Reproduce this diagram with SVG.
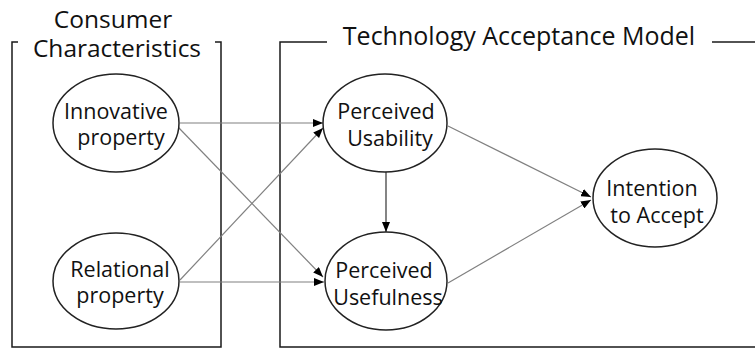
<svg xmlns="http://www.w3.org/2000/svg" width="755" height="350" viewBox="0 0 755 350">
  <defs>
    <marker id="arrow" viewBox="0 0 10 8" refX="10" refY="4" markerWidth="10" markerHeight="8" markerUnits="userSpaceOnUse" orient="auto">
      <path d="M0,0 L10,4 L0,8 Z" fill="#000"/>
    </marker>
    <style>
      .frame { fill: none; stroke: #1a1a1a; stroke-width: 1.5; }
      .title { font-family: "Open Sans", "Noto Sans", sans-serif; font-size: 24.5px; fill: #111; text-anchor: middle; }
      .title.wide { font-size: 25px; }
      .node ellipse { fill: #fff; stroke: #222; stroke-width: 1.5; }
      .node text { font-family: "Open Sans", "Noto Sans", sans-serif; font-size: 21.5px; fill: #111; text-anchor: middle; }
      .edge { stroke: #808080; stroke-width: 1.2; fill: none; marker-end: url(#arrow); }
      .edge.dark { stroke: #333; }
    </style>
  </defs>
  <rect width="755" height="350" fill="#fff"/>

  <!-- Consumer Characteristics frame -->
  <g id="group-consumer">
    <path class="frame" d="M18,42 H12 V347 H221 V42 H215"/>
    <text class="title" x="113" y="28">Consumer</text>
    <text class="title" x="117" y="57">Characteristics</text>
  </g>

  <!-- Technology Acceptance Model frame -->
  <g id="group-tam">
    <path class="frame" d="M327,42 H280 V347 H755"/>
    <path class="frame" d="M712,42 H755"/>
    <text class="title wide" x="519" y="45">Technology Acceptance Model</text>
  </g>

  <!-- Connectors -->
  <g id="connectors">
    <line class="edge" x1="180" y1="123" x2="323" y2="123"/>
    <line class="edge" x1="178" y1="127" x2="323" y2="277"/>
    <line class="edge" x1="180" y1="280" x2="323" y2="128"/>
    <line class="edge" x1="180" y1="282" x2="324" y2="282"/>
    <line class="edge dark" x1="386" y1="172" x2="386" y2="232"/>
    <line class="edge" x1="448" y1="126" x2="591" y2="197"/>
    <line class="edge" x1="448" y1="283" x2="591" y2="200"/>
  </g>

  <!-- Nodes -->
  <g id="innovative" class="node">
    <ellipse cx="116" cy="123" rx="63" ry="49"/>
    <text x="116" y="119">Innovative</text>
    <text x="121" y="145">property</text>
  </g>
  <g id="relational" class="node">
    <ellipse cx="116" cy="281" rx="63" ry="48"/>
    <text x="120" y="277">Relational</text>
    <text x="120" y="303">property</text>
  </g>
  <g id="usability" class="node">
    <ellipse cx="385" cy="123" rx="62" ry="49"/>
    <text x="386" y="119">Perceived</text>
    <text x="390" y="146">Usability</text>
  </g>
  <g id="usefulness" class="node">
    <ellipse cx="386" cy="281" rx="61" ry="49"/>
    <text x="384" y="278">Perceived</text>
    <text x="388" y="305">Usefulness</text>
  </g>
  <g id="intention" class="node">
    <ellipse cx="655" cy="198" rx="62" ry="49"/>
    <text x="652" y="196">Intention</text>
    <text x="657" y="223">to Accept</text>
  </g>
</svg>
